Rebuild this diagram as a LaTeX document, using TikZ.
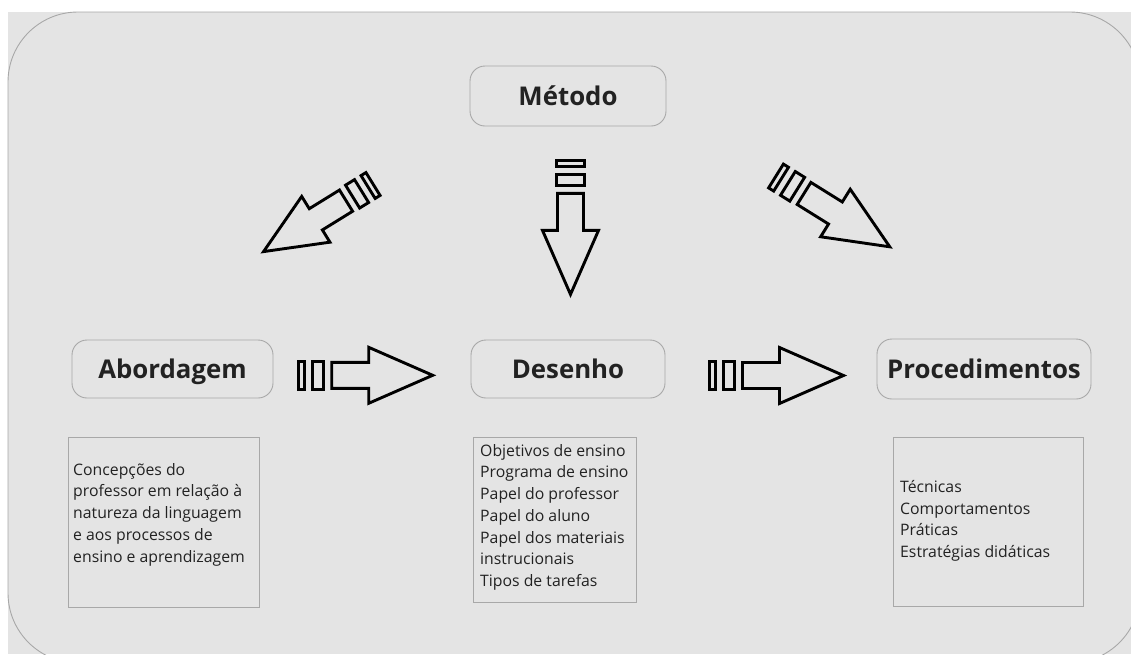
\documentclass[tikz,border=0pt]{standalone}
\usepackage{fontspec}
\setmainfont{Open Sans}
\usetikzlibrary{positioning}

\definecolor{panelgray}{RGB}{228,228,228}
\definecolor{framegray}{RGB}{168,168,168}
\definecolor{inkgray}{RGB}{34,34,34}

\tikzset{
  headbox/.style={draw=framegray, line width=0.9pt, rounded corners=15pt, fill=panelgray,
    minimum height=58pt, inner sep=0pt, text depth=0pt, text=inkgray,
    font=\bfseries\fontsize{25.8}{30}\selectfont},
  infobox/.style={draw=framegray, line width=0.9pt, inner sep=0pt},
  infotext/.style={align=left, inner sep=0pt, anchor=north west, text=inkgray,
    font=\fontsize{15.8}{21.7}\selectfont},
  arrowline/.style={draw=black, line width=2.9pt},
  stripearrow/.pic={
    \draw[arrowline] (0,-14) rectangle (6,14);
    \draw[arrowline] (14,-14) rectangle (25,14);
    \draw[arrowline] (33,-13) -- (70,-13) -- (70,-28) -- (134,0) -- (70,28) -- (70,13) -- (33,13) -- cycle;
  }
}

\begin{document}
\begin{tikzpicture}[x=1pt, y=-1pt]
  \useasboundingbox (0,0) rectangle (1131,654);
  \clip (0,0) rectangle (1131,654);

  % panel
  \fill[panelgray] (8,12) rectangle (1131,654);
  \draw[framegray, line width=0.9pt, rounded corners=70pt] (8,12) rectangle (1140,663);

  % headers
  \node[headbox, minimum width=196pt, minimum height=60pt] (metodo) at (568,96) {Método};
  \node[headbox, minimum width=201pt] (abordagem) at (172.5,369) {Abordagem};
  \node[headbox, minimum width=194pt] (desenho) at (568,369) {Desenho};
  \node[headbox, minimum width=214pt, minimum height=60pt] (procedimentos) at (984,369) {Procedimentos};

  % boxes below
  \node[infobox, minimum width=191pt, minimum height=170pt] (abordagembox) at (163.5,522) {};
  \node[infobox, minimum width=163pt, minimum height=165pt] (desenhobox) at (554.5,519.5) {};
  \node[infobox, minimum width=190pt, minimum height=169pt] (procedimentosbox) at (988,521.5) {};

  \node[infotext] (abordagemtxt) at (73,463) {Concepções do\\professor em relação à\\natureza da linguagem\\e aos processos de\\ensino e aprendizagem};
  \node[infotext] (desenhotxt) at (480,444) {Objetivos de ensino\\Programa de ensino\\Papel do professor\\Papel do aluno\\Papel dos materiais\\instrucionais\\Tipos de tarefas};
  \node[infotext] (procedimentostxt) at (900,480) {Técnicas\\Comportamentos\\Práticas\\Estratégias didáticas};

  % arrows
  \pic at (298.7,375.3) {stripearrow};
  \pic at (709.5,375.5) {stripearrow};
  \pic[rotate=-90] at (570.5,160.4) {stripearrow};
  \pic[rotate=211.7, scale=0.96] at (373,184) {stripearrow};
  \pic[rotate=-31.9] at (776,176) {stripearrow};
\end{tikzpicture}
\end{document}
